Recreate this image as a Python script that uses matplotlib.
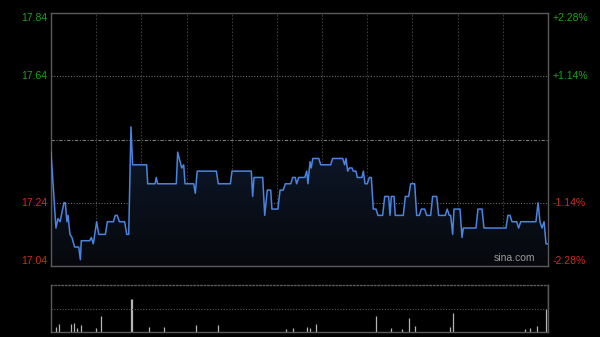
import numpy as np
import matplotlib.pyplot as plt
from matplotlib.colors import LinearSegmentedColormap

# minutes since 9:30 (HK session, 330 trading minutes) and price
minutes = [0, 3.3, 4.6, 6.0, 8.6, 9.5, 10.6, 11.3, 12.6, 13.9, 15.7, 17.5, 18.4, 19.5, 20.1,
           25.7, 26.8, 28.1, 30.3, 31.7, 36.1, 37.4, 41.4, 42.7, 44.0, 45.4, 48.9, 50.3, 51.6,
           53.1, 54.2, 57.8, 63.5, 64.2, 69.1, 69.9, 70.8, 83.2, 84.1, 86.8, 88.1, 89.0, 94.8,
           95.8, 97.1, 109.8, 111.1, 115.5, 119.1, 120.2, 133.0, 133.9, 134.8, 140.6, 141.9,
           143.6, 145.9, 146.7, 150.7, 152.1, 154.2, 155.6, 159.2, 160.5, 162.2, 163.1, 164.5,
           168.5, 169.8, 170.6, 172.0, 172.8, 173.8, 175.1, 177.8, 179.1, 185.7, 187.0, 193.7,
           195.0, 195.9, 197.0, 198.1, 199.9, 200.7, 202.5, 203.4, 206.5, 207.4, 208.5, 210.0,
           211.4, 212.7, 214.0, 215.8, 217.1, 220.2, 221.6, 224.2, 225.1, 226.0, 227.8, 228.6,
           233.9, 235.3, 237.5, 238.8, 241.5, 242.8, 244.6, 245.9, 248.1, 249.5, 252.1, 253.4,
           256.1, 257.4, 261.8, 263.1, 264.5, 265.4, 266.7, 267.6, 271.6, 272.9, 273.8, 282.2,
           283.5, 286.2, 287.5, 302.1, 303.4, 304.8, 306.1, 309.2, 310.5, 311.9, 322.0, 323.4,
           324.7, 326.0, 327.4, 328.7, 330.0]
prices = [17.40, 17.16, 17.19, 17.18, 17.24, 17.24, 17.18, 17.20, 17.14, 17.13, 17.10, 17.10, 17.10, 17.06, 17.12,
          17.12, 17.13, 17.11, 17.18, 17.14, 17.14, 17.18, 17.18, 17.20, 17.20, 17.18, 17.18, 17.14, 17.14,
          17.48, 17.36, 17.36, 17.36, 17.30, 17.30, 17.32, 17.30, 17.30, 17.40, 17.35, 17.36, 17.30, 17.30,
          17.27, 17.34, 17.34, 17.30, 17.30, 17.30, 17.34, 17.34, 17.26, 17.32, 17.32, 17.20,
          17.28, 17.28, 17.22, 17.22, 17.28, 17.28, 17.30, 17.30, 17.32, 17.32, 17.30, 17.32,
          17.32, 17.34, 17.30, 17.37, 17.35, 17.38, 17.38, 17.38, 17.36, 17.36, 17.38, 17.38,
          17.36, 17.38, 17.34, 17.35, 17.35, 17.34, 17.34, 17.32, 17.32, 17.34, 17.30, 17.30,
          17.32, 17.32, 17.22, 17.22, 17.20, 17.20, 17.26, 17.26, 17.20, 17.26, 17.26, 17.20,
          17.20, 17.26, 17.26, 17.30, 17.30, 17.20, 17.20, 17.22, 17.22, 17.20, 17.20, 17.26,
          17.26, 17.20, 17.20, 17.22, 17.20, 17.20, 17.14, 17.22, 17.22, 17.13, 17.16, 17.16,
          17.22, 17.22, 17.16, 17.16, 17.20, 17.20, 17.18, 17.18, 17.16, 17.18, 17.18, 17.24,
          17.18, 17.16, 17.18, 17.11, 17.11]

# volume spikes (relative units)
vol_minutes = [3, 5, 13, 15, 17, 20, 30, 33, 53, 54, 65, 75, 96, 111, 156, 161, 170, 172, 176,
               216, 226, 233, 238, 242, 265, 267, 315, 318, 323, 329, 330]
vol_values = [11, 17, 17, 20, 8, 15, 8, 34, 70, 70, 11, 11, 15, 15, 6, 8, 11, 8, 16,
              34, 8, 6, 29, 13, 10, 40, 6, 8, 13, 50, 100]

prev_close = 17.44
left_labels = ['17.84', '17.64', '17.24', '17.04']
left_values = [17.84, 17.64, 17.24, 17.04]
right_labels = ['+2.28%', '+1.14%', '-1.14%', '-2.28%']

green = '#1fa01f'
red = '#d42a1e'
border = '#5a5a5a'

fig = plt.figure(figsize=(6, 3.37), dpi=100, facecolor='black')
ax = fig.add_axes([0.085, 0.2107, 0.8283, 0.7507], facecolor='black')
axv = fig.add_axes([0.085, 0.0148, 0.8283, 0.1395], facecolor='black')

ax.set_xlim(0, 330)
ax.set_ylim(17.04, 17.84)

# gradient fill below the line
poly = ax.fill_between(minutes, prices, 17.04, color='none', lw=0)
cmap = LinearSegmentedColormap.from_list('fill', ['#06080c', '#0f1a2e'])
grad = np.linspace(0, 1, 256).reshape(-1, 1)
im = ax.imshow(grad, extent=[0, 330, 17.04, max(prices)], origin='lower',
               aspect='auto', cmap=cmap, zorder=1)
im.set_clip_path(poly.get_paths()[0], transform=ax.transData)

# grid
for k in range(1, 11):
    ax.axvline(k * 30, color='#3a3a3a', lw=0.8, ls=(0, (1.5, 1.5)), zorder=0.5)
for v in [17.64, 17.24]:
    ax.axhline(v, color='#6a6a6a', lw=0.8, ls=(0, (1, 1.5)), zorder=0.5)
ax.axhline(prev_close, color='#7a7a7a', lw=0.8, ls=(0, (3, 1.5, 1, 1.5)), zorder=0.5)

ax.plot(minutes, prices, color='#4a84e0', lw=1.1, zorder=3)

ax.set_xticks([])
ax.set_yticks([])
for s in ax.spines.values():
    s.set_color(border)
    s.set_linewidth(1)

# y labels
tr = ax.get_yaxis_transform()
vas = ['top', 'center', 'center', 'bottom']
cols = [green, green, red, red]
for lab, v, va, c, rl in zip(left_labels, left_values, vas, cols, right_labels):
    ax.text(-0.008, v, lab, transform=tr, ha='right', va=va, color=c,
            fontsize=7.5, family='Liberation Sans')
    ax.text(1.01, v, rl, transform=tr, ha='left', va=va, color=c,
            fontsize=7.5, family='Liberation Sans')

ax.text(0.975, 0.012, 'sina.com', transform=ax.transAxes, ha='right', va='bottom',
        color='#9a9a9a', fontsize=7.5, family='Liberation Sans', zorder=4)

# volume panel
axv.set_xlim(0, 330)
axv.set_ylim(0, max(vol_values))
axv.vlines(vol_minutes, 0, vol_values, color='#b4b4b4', lw=0.9)
axv.axhline(max(vol_values) / 2, color='#5a5a5a', lw=0.8, ls=(0, (1, 1.5)))
axv.set_xticks([])
axv.set_yticks([])
for name, s in axv.spines.items():
    s.set_color(border)
    s.set_linewidth(1)
axv.spines['top'].set_linestyle((0, (1, 1.5)))

fig.savefig('out.png', dpi=100, facecolor='black')
